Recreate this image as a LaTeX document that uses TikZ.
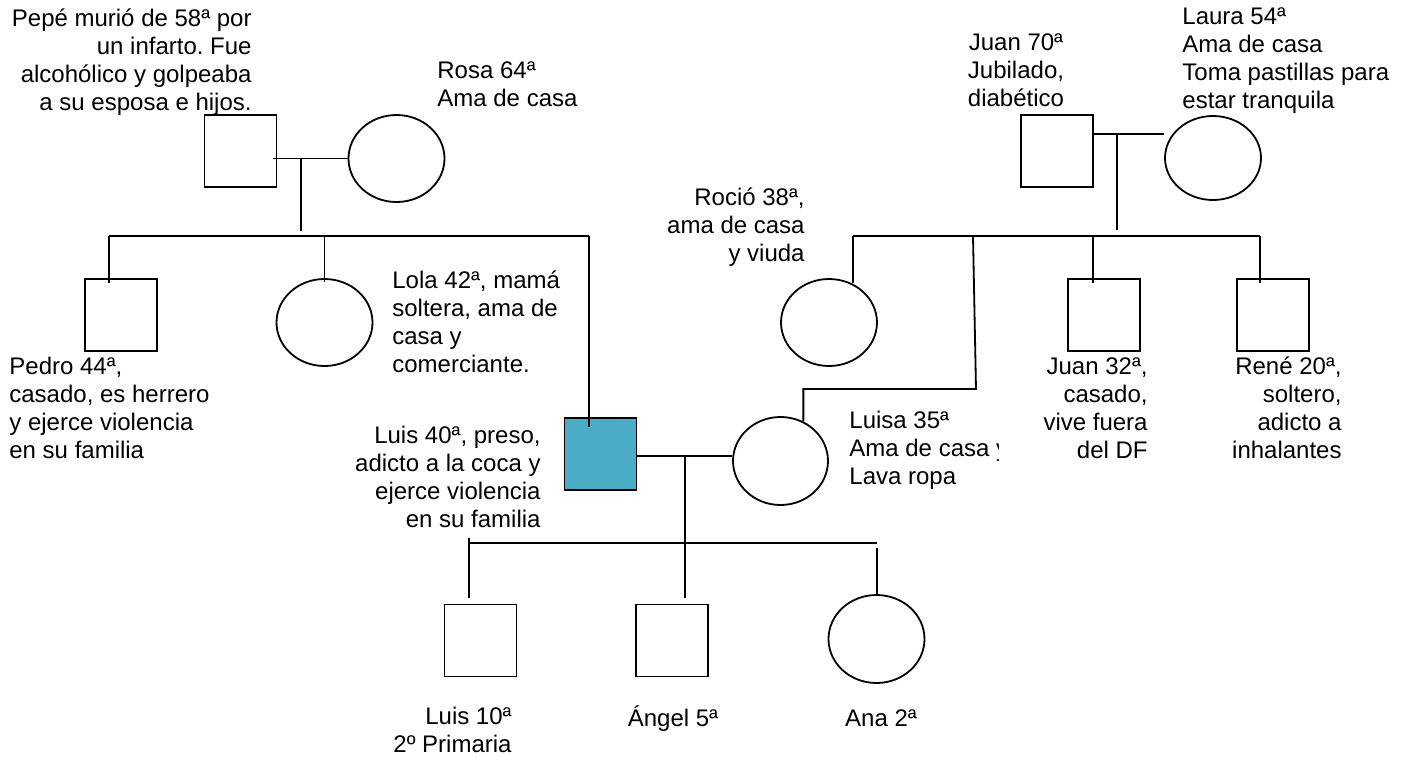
\documentclass[tikz,border=0pt]{standalone}
\usepackage{fontspec}
\setmainfont{Liberation Sans}
\usepackage{tikz}
\usetikzlibrary{shapes.geometric,calc}
\definecolor{Ident}{HTML}{4BACC6}
\frenchspacing

\begin{document}
\begin{tikzpicture}[x=0.5pt,y=-0.5pt,
    male/.style={draw,rectangle,minimum width=36pt,minimum height=36pt,inner sep=0pt,line width=0.9pt},
    fem/.style={draw,ellipse,minimum width=48pt,minimum height=43.5pt,inner sep=0pt,line width=0.9pt},
    txt/.style={inner sep=0pt,font=\fontsize{12pt}{14pt}\selectfont},
    ln/.style={line width=0.9pt}]
    \useasboundingbox (0,0) rectangle (1410,756);
    \node[male] (pepe) at (240.5,151) {};
    \node[fem] (rosa) at (396.5,158.5) {};
    \node[male] (pedro) at (121,315) {};
    \node[fem] (lola) at (324.5,322.5) {};
    \node[male,fill=Ident] (luis) at (600.5,454) {};
    \node[male] (juanP) at (1057,151) {};
    \node[fem,minimum height=42pt] (laura) at (1213,158) {};
    \node[fem] (rocio) at (829,322.5) {};
    \node[male] (juanH) at (1104,315) {};
    \node[male] (rene) at (1273,315) {};
    \node[fem,minimum width=47.5pt,minimum height=44pt] (luisa) at (780.5,461) {};
    \node[male] (luisH) at (480.5,640.5) {};
    \node[male] (angel) at (672,640.5) {};
    \node[fem,minimum height=44pt] (ana) at (876.5,639) {};
    % familia de Luis
    \coordinate (pr) at (301,158); \coordinate (prD) at (301,231);
    \coordinate (hP1) at (109,236); \coordinate (hP2) at (589,236);
    \draw[ln] ([xshift=-2pt]pepe.east |- rosa.west) -- (rosa.west);
    \draw[ln] (pr) -- (prD);
    \draw[ln] (hP1) -- (hP2);
    \draw[ln] (hP1) -- ([yshift=-2.5pt]hP1 |- pedro.north);
    \draw[ln] (lola.north |- hP1) -- ([yshift=-2pt]lola.north);
    \draw[ln] (hP2) -- ([yshift=-5pt]hP2 |- luis.north);
    % familia de Luisa
    \coordinate (jl) at (1117,134); \coordinate (jlD) at (1117,230);
    \coordinate (hM1) at (853,236); \coordinate (hM2) at (1260,236);
    \coordinate (hM3) at (1093,236); \coordinate (hM4) at (973,236);
    \coordinate (lk) at (976,389);
    \draw[ln] (juanP.east |- jl) -- (laura.west |- jl);
    \draw[ln] (jl) -- (jlD);
    \draw[ln] (hM1) -- (hM2);
    \draw[ln] (hM1) -- (hM1 |- rocio.60);
    \draw[ln] (hM3) -- ([yshift=-2.5pt]hM3 |- juanH.north);
    \draw[ln] (hM2) -- ([yshift=-2.5pt]hM2 |- rene.north);
    \draw[ln] (hM4) -- (lk) -- (lk -| luisa.60) -- (luisa.60);
    % hijos
    \coordinate (ll) at (685,456);
    \coordinate (hC1) at (469,543); \coordinate (hC2) at (877,543);
    \draw[ln] (luis.east |- ll) -- (luisa.west |- ll);
    \draw[ln] (ll) -- ([yshift=3pt]ll |- angel.north);
    \draw[ln] (hC1) -- (hC2);
    \draw[ln] ([yshift=2.5pt]hC1) -- ([yshift=3pt]hC1 |- luisH.north);
    \draw[ln] ([yshift=-2.5pt]hC2) -- (hC2 |- ana.north);
    % textos (base = ultima linea)
    \node[txt,anchor=base east,align=right] (tPepe) at (252,110) {Pepé murió de 58ª por\\un infarto. Fue\\alcohólico y golpeaba\\a su esposa e hijos.};
    \node[txt,anchor=base west,align=left] (tRosa) at (437,106) {Rosa 64ª\\Ama de casa};
    \node[txt,anchor=base,align=center] (tJuanP) at (1016,106) {Juan 70ª\\Jubilado,\\diabético};
    \node[txt,anchor=base west,align=left] (tLaura) at (1182,108) {Laura 54ª\\Ama de casa\\Toma pastillas para\\estar tranquila};
    \node[txt,anchor=base east,align=right] (tRocio) at (805,261) {Roció 38ª,\\ama de casa\\y viuda};
    \node[txt,anchor=base west,align=left] (tPedro) at (9,458) {Pedro 44ª,\\casado, es herrero\\y ejerce violencia\\en su familia};
    \node[txt,anchor=base west,align=left] (tLola) at (392,372) {Lola 42ª, mamá\\soltera, ama de\\casa y\\comerciante.};
    \node[txt,anchor=base east,align=right] (tLuis) at (541,527) {Luis 40ª, preso,\\adicto a la coca y\\ejerce violencia\\en su familia};
    \node[txt,anchor=base east,align=right] (tJuanH) at (1148,458) {Juan 32ª,\\casado,\\vive fuera\\del DF};
    \node[txt,anchor=base east,align=right] (tRene) at (1342,458) {René 20ª,\\soltero,\\adicto a\\inhalantes};
    \begin{scope}
      \clip (840,380) rectangle (998,500);
      \node[txt,anchor=base west,align=left] (tLuisa) at (849,484) {Luisa 35ª\\Ama de casa y\\Lava ropa};
    \end{scope}
    \node[txt,anchor=base east,align=right] (tLuisH) at (512,752) {Luis 10ª\\2º Primaria};
    \node[txt,anchor=base] (tAngel) at (673,726) {Ángel 5ª};
    \node[txt,anchor=base] (tAna) at (881,726) {Ana 2ª};
\end{tikzpicture}
\end{document}
